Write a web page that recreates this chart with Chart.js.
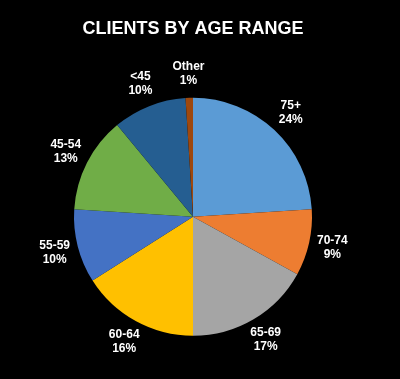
<!DOCTYPE html>
<html>
<head>
<meta charset="utf-8">
<script src="https://cdn.jsdelivr.net/npm/chart.js@4/dist/chart.umd.min.js"></script>
<style>
  html, body { margin: 0; padding: 0; background: #000; }
  canvas { display: block; }
</style>
</head>
<body>
<canvas id="c" width="400" height="379"></canvas>
<script>
const categories = ["75+", "70-74", "65-69", "60-64", "55-59", "45-54", "<45", "Other"];
const percentages = [24, 9, 17, 16, 10, 13, 10, 1];
const sliceColors = ["#5B9BD5", "#ED7D31", "#A5A5A5", "#FFC000", "#4472C4", "#70AD47", "#255E91", "#9E480E"];
const chartTitle = "CLIENTS BY AGE RANGE";

const bgPlugin = {
  id: 'bg',
  beforeDraw(chart) {
    const ctx = chart.ctx;
    ctx.save();
    ctx.fillStyle = '#000';
    ctx.fillRect(0, 0, chart.width, chart.height);
    ctx.restore();
  }
};

const labelPlugin = {
  id: 'outLabels',
  afterDatasetsDraw(chart) {
    const ctx = chart.ctx;
    const meta = chart.getDatasetMeta(0);
    ctx.save();
    ctx.fillStyle = '#fff';
    ctx.font = 'bold 12px "Liberation Sans", Arial, sans-serif';
    ctx.textAlign = 'center';
    ctx.textBaseline = 'middle';
    meta.data.forEach((arc, i) => {
      const mid = (arc.startAngle + arc.endAngle) / 2;
      const r = arc.outerRadius * 1.2;
      const x = arc.x + Math.cos(mid) * r;
      const y = arc.y + Math.sin(mid) * r;
      ctx.fillText(categories[i], x, y - 7);
      ctx.fillText(percentages[i] + '%', x, y + 7);
    });
    ctx.restore();
  }
};

new Chart(document.getElementById('c'), {
  type: 'pie',
  data: {
    labels: categories,
    datasets: [{
      data: percentages,
      backgroundColor: sliceColors,
      borderWidth: 0
    }]
  },
  options: {
    responsive: false,
    animation: false,
    layout: { padding: { left: 74, right: 88, top: 0, bottom: 43 } },
    plugins: {
      legend: { display: false },
      tooltip: { enabled: false },
      title: {
        display: true,
        text: chartTitle,
        color: '#fff',
        font: { family: '"Liberation Sans", Arial, sans-serif', size: 18, weight: 'bold' },
        padding: { top: 18, bottom: 58 }
      }
    }
  },
  plugins: [bgPlugin, labelPlugin]
});
</script>
</body>
</html>
